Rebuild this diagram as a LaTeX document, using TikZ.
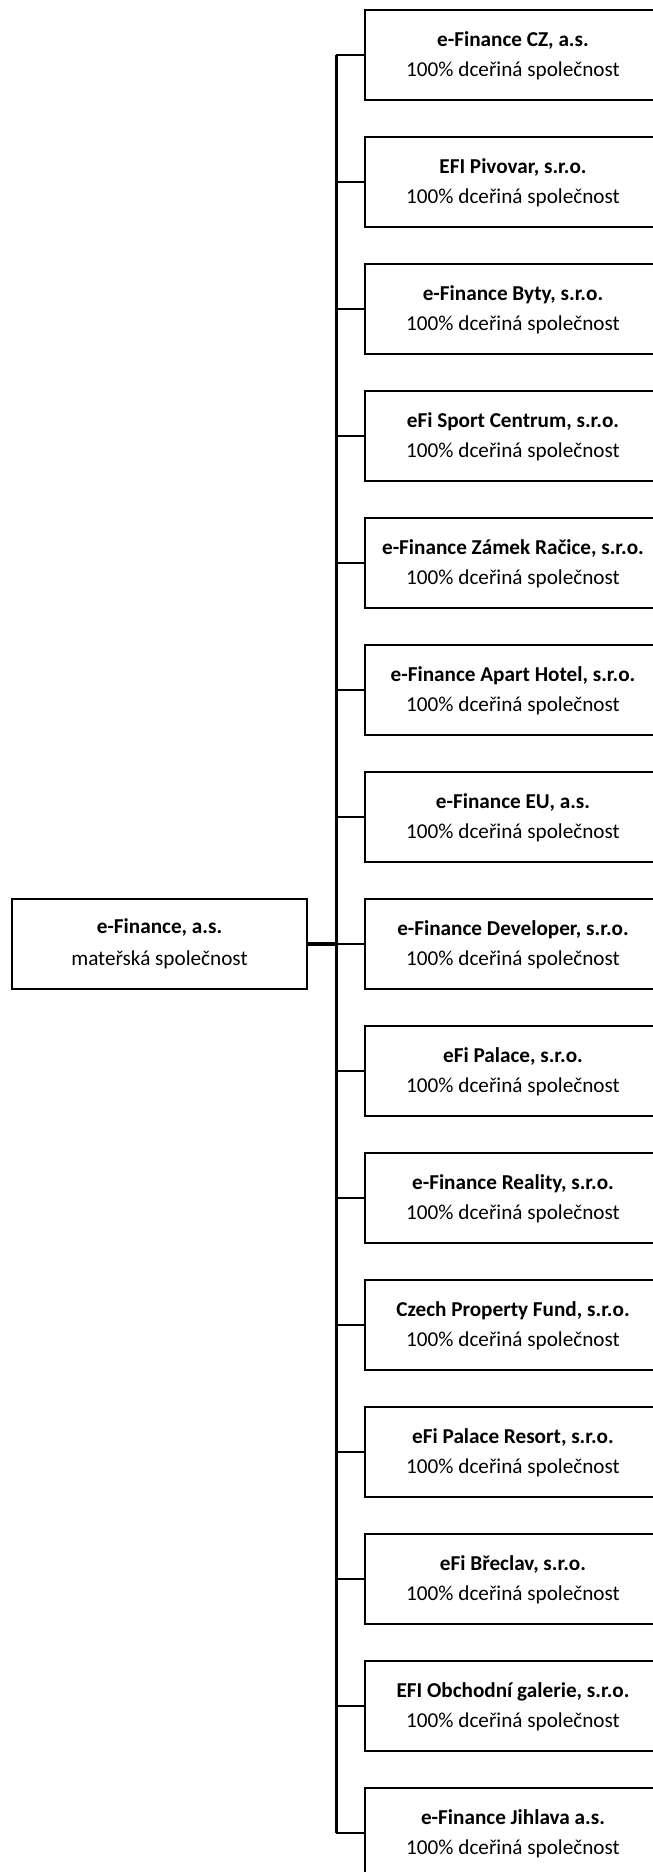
\documentclass[tikz,border=0pt]{standalone}
\usepackage{fontspec}
\setmainfont{Carlito}
\usetikzlibrary{calc}
\begin{document}
\begin{tikzpicture}[x=1pt,y=1pt,
  box/.style={draw=black,line width=2pt,minimum width=296pt,minimum height=90pt,inner sep=0pt,fill=white},
  pbox/.style={draw=black,line width=2pt,minimum width=295pt,minimum height=90pt,inner sep=0pt,fill=white},
  ttl/.style={anchor=base,font=\fontsize{21.2}{25}\selectfont\bfseries,inner sep=0pt},
  sub/.style={anchor=base,font=\fontsize{21.2}{25}\selectfont,inner sep=0pt},
  trunk/.style={line width=3pt},
  branch/.style={line width=2pt},
  pline/.style={line width=3.2pt}]
\useasboundingbox (0,0) rectangle (653,-1872);
\foreach \i/\t in {1/{e-Finance CZ, a.s.},2/{EFI Pivovar, s.r.o.},3/{e-Finance Byty, s.r.o.},4/{eFi Sport Centrum, s.r.o.},5/{e-Finance Zámek Račice, s.r.o.},6/{e-Finance Apart Hotel, s.r.o.},7/{e-Finance EU, a.s.},8/{e-Finance Developer, s.r.o.},9/{eFi Palace, s.r.o.},10/{e-Finance Reality, s.r.o.},11/{Czech Property Fund, s.r.o.},12/{eFi Palace Resort, s.r.o.},13/{eFi Břeclav, s.r.o.},14/{EFI Obchodní galerie, s.r.o.},15/{e-Finance Jihlava a.s.}}{
  \pgfmathsetmacro{\yc}{-55-127*(\i-1)}
  \node[box] (c\i) at (513,\yc) {};
  \node[ttl] (t\i) at ($(c\i.north)+(0,-37)$) {\t};
  \node[sub] (s\i) at ($(c\i.north)+(0,-67)$) {100\% dceřiná společnost};
  \coordinate (j\i) at (336,\yc);
  \draw[branch] (c\i.west) -- (j\i);
}
\draw[trunk] (j1) -- (j15);
\node[pbox] (p) at (159.5,-944) {};
\node[ttl] (pt) at ($(p.north)+(0,-35)$) {e-Finance, a.s.};
\node[sub] (ps) at ($(p.north)+(0,-67)$) {mateřská společnost};
\coordinate (pj) at (336,-944);
\draw[pline] (p.east) -- (pj);
\end{tikzpicture}
\end{document}
